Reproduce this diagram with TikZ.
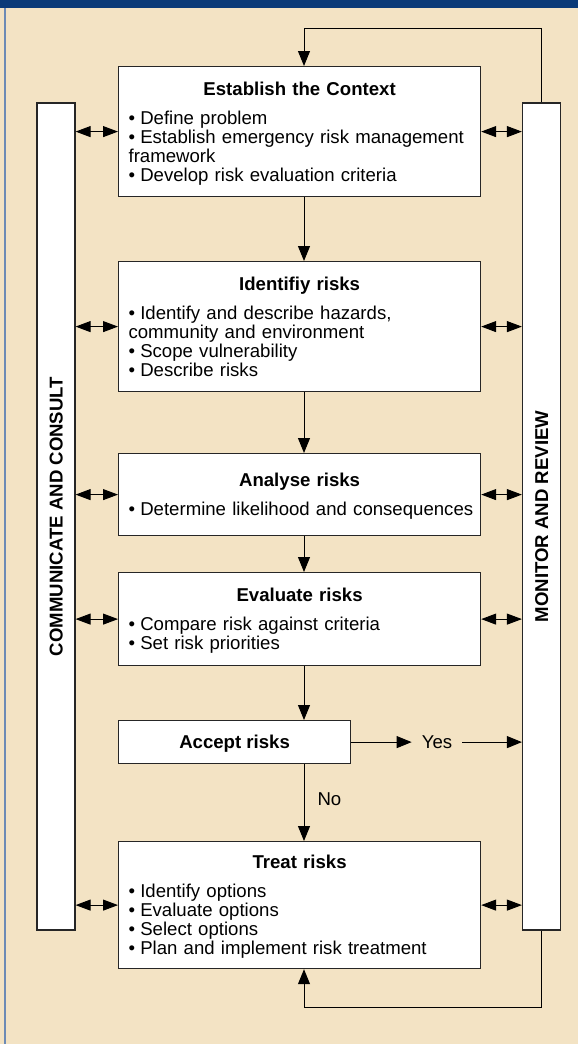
\documentclass[tikz,border=0pt]{standalone}
\usepackage{fontspec}
\setmainfont{Liberation Sans}
\usetikzlibrary{arrows.meta}
\definecolor{banner}{HTML}{0A3A78}
\definecolor{bg}{HTML}{F3E3C4}
\definecolor{frameln}{HTML}{6D8BB5}
\newcommand{\btitle}[1]{{\centering\bfseries\noindent\rule{0pt}{18.9pt}#1\par}\vspace{10pt}}
\newcommand{\bitem}[1]{\par\noindent\hangindent=11.7pt\hangafter=1\makebox[11.7pt][l]{\textbullet}#1}
\newcommand{\bend}{\rule[-5.7pt]{0pt}{5.7pt}}
\begin{document}
\begin{tikzpicture}[x=1pt,y=1pt,
  every node/.style={font=\fontsize{18.6pt}{19pt}\selectfont},
  box/.style={draw=black!85, line width=1.2pt, fill=white, inner xsep=10pt, inner ysep=0pt,
    text width=342pt, align=left, anchor=north west},
  smallbox/.style={draw=black!85, line width=1.2pt, fill=white, minimum width=232pt,
    minimum height=43pt, inner sep=0pt, anchor=north west, text height=13.4pt, text depth=0pt,
    font=\fontsize{18.6pt}{19pt}\selectfont\bfseries},
  column/.style={draw=black!85, line width=1.2pt, fill=white, rotate=90, minimum width=827pt,
    minimum height=38pt, inner sep=0pt, text height=13.4pt, text depth=0pt,
    font=\fontsize{18.6pt}{19pt}\selectfont\bfseries},
  arr/.style={-{Triangle[length=15pt,width=12pt]}, line width=1pt},
  dbl/.style={{Triangle[length=15pt,width=11pt]}-{Triangle[length=15pt,width=11pt]}, line width=1pt},
  lbl/.style={inner sep=0pt, text height=13.4pt, text depth=0pt}
]
\fill[bg] (0,0) rectangle (578,-1044);
\useasboundingbox (0,0) rectangle (578,-1044);
\fill[banner] (0,0) rectangle (578,-8);
\draw[frameln, line width=1.2pt] (5,-8) -- (5,-1044);

\node[box, minimum height=130pt] (est) at (118,-66)
  {\btitle{Establish the Context}\bitem{Define problem}\bitem{Establish emergency risk management\\framework}\bitem{Develop risk evaluation criteria}\bend};
\node[box, minimum height=130pt] (idf) at (118,-261)
  {\btitle{Identifiy risks}\bitem{Identify and describe hazards,\\community and environment}\bitem{Scope vulnerability}\bitem{Describe risks}\bend};
\node[box, minimum height=82pt] (ana) at (118,-453)
  {\btitle{Analyse risks}\bitem{\mbox{Determine likelihood and consequences}}\bend};
\node[box, minimum height=93pt] (eva) at (118,-572)
  {\btitle{Evaluate risks}\bitem{Compare risk against criteria}\bitem{Set risk priorities}\bend};
\node[smallbox] (acc) at (118,-720) {Accept risks};
\node[box, minimum height=127pt] (trt) at (118,-841)
  {\btitle{Treat risks}\bitem{Identify options}\bitem{Evaluate options}\bitem{Select options}\bitem{Plan and implement risk treatment}\bend};

\node[column] (ccol) at (56,-516.5) {COMMUNICATE AND CONSULT};
\node[column] (mcol) at (541.5,-516.5) {MONITOR AND REVIEW};

\coordinate (ax) at (304,0);

\draw[arr] (est.south -| ax) -- (idf.north -| ax);
\draw[arr] (idf.south -| ax) -- (ana.north -| ax);
\draw[arr] (ana.south -| ax) -- (eva.north -| ax);
\draw[arr] (eva.south -| ax) -- (acc.north -| ax);
\draw[arr] (acc.south -| ax) -- node[lbl, pos=0.45, anchor=west, xshift=13pt] (no) {No} (trt.north -| ax);

\foreach \n in {est,idf,ana,eva,trt} {
  \draw[dbl] (\n.west -| ccol.south) -- (\n.west);
  \draw[dbl] (\n.east) -- (\n.east -| mcol.north);
}

\node[lbl, inner xsep=10pt] (yes) at (437,-741.5) {Yes};
\draw[arr] (acc.east) -- (acc.east -| yes.west);
\draw[arr] (acc.east -| yes.east) -- (acc.east -| mcol.north);

\draw[arr] (mcol.east) -- ++(0,74) -| (est.north -| ax);
\draw[arr] (mcol.west) -- ++(0,-77) -| (trt.south -| ax);
\end{tikzpicture}
\end{document}
